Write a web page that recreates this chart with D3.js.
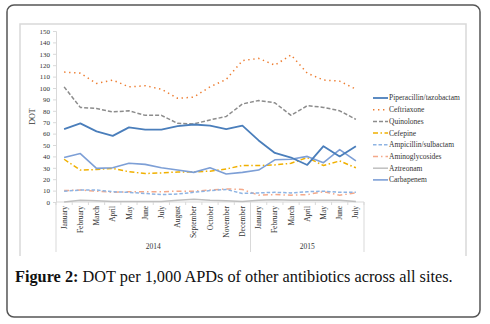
<!DOCTYPE html>
<html>
<head>
<meta charset="utf-8">
<script src="https://cdn.jsdelivr.net/npm/d3@7"></script>
<style>
  html, body { margin: 0; padding: 0; background: #fff; }
  svg { display: block; }
</style>
</head>
<body>
<svg id="chart" width="490" height="324"></svg>
<script>
const months = ["January", "February", "March", "April", "May", "June", "July", "August", "September",
  "October", "November", "December", "January", "February", "March", "April", "May", "June", "July"];
const years = [{ label: "2014", from: 0, to: 12 }, { label: "2015", from: 12, to: 19 }];
const yTicks = [0, 10, 20, 30, 40, 50, 60, 70, 80, 90, 100, 110, 120, 130, 140, 150];

const piperacillin = [64, 69, 62, 58, 65.5, 63.5, 63.5, 66.5, 68, 67, 64, 67, 54, 43, 39, 32.5, 49, 40, 49];
const ceftriaxone = [114, 113, 104, 107, 101, 102, 99, 91, 92, 101, 107.5, 124, 126, 120, 129, 113, 107, 106, 99];
const quinolones = [101, 83, 82, 79, 80, 76, 76, 69, 68.5, 72, 75, 86, 89, 87, 76, 84.5, 83, 80, 72.5];
const cefepine = [37.5, 28, 28.5, 29.5, 26.5, 25, 25.5, 26.3, 26.5, 27, 29, 32, 32, 32.5, 34, 39, 32, 36, 30];
const ampicillin = [9.5, 10.5, 10.5, 9, 8.5, 7.5, 6.5, 7, 8.5, 10, 11, 7.5, 8, 8.5, 8, 9, 9.5, 8.5, 8.5];
const aminoglycosides = [10, 10.5, 9.5, 8.5, 9, 9, 9, 9.5, 9.5, 10.5, 11.5, 11, 6, 6.5, 6, 6.5, 9, 6, 8];
const aztreonam = [0, 1.5, 1, 0.5, 0.5, 0.5, 0.5, 1.5, 2.5, 1.5, 1, 0.5, 1.5, 2, 1.5, 1.5, 1.5, 1.5, 0.5];
const carbapenem = [39, 42.5, 29.5, 30, 34, 33, 30, 28, 26, 30, 24.5, 26, 28, 37, 37.5, 40, 34.5, 46, 36];

const series = [
  { name: "Piperacillin/tazobactam", values: piperacillin, color: "#4a7ebb", width: 1.8, dash: null },
  { name: "Ceftriaxone", values: ceftriaxone, color: "#ed7d31", width: 1.5, dash: "1.4,3.6" },
  { name: "Quinolones", values: quinolones, color: "#8c8c8c", width: 1.5, dash: "4,2" },
  { name: "Cefepine", values: cefepine, color: "#f0b000", width: 1.5, dash: "5,2.5,1.5,2.5" },
  { name: "Ampicillin/sulbactam", values: ampicillin, color: "#8eb4e3", width: 1.5, dash: "3.5,2" },
  { name: "Aminoglycosides", values: aminoglycosides, color: "#f4a98a", width: 1.5, dash: "5,3,1.5,3" },
  { name: "Aztreonam", values: aztreonam, color: "#bfbfbf", width: 1.5, dash: null },
  { name: "Carbapenem", values: carbapenem, color: "#7d9fd6", width: 1.6, dash: null }
];

const svg = d3.select("#chart");
const serif = "'Liberation Serif','Times New Roman',serif";

// Outer frame
svg.append("rect")
  .attr("x", 7).attr("y", 5).attr("width", 473).attr("height", 312).attr("rx", 7)
  .attr("fill", "#fff").attr("stroke", "#555").attr("stroke-width", 1.5);

// Chart area border (top, left, right)
svg.append("path")
  .attr("d", "M20,256 V24 H466 V256")
  .attr("fill", "none").attr("stroke", "#d9d9d9").attr("stroke-width", 1.5);

const m = { left: 56, top: 31, right: 364, bottom: 202 };
const x = d3.scaleBand().domain(d3.range(months.length)).range([m.left, m.right]);
const y = d3.scaleLinear().domain([0, 150]).range([m.bottom, m.top]);
const cx = i => x(i) + x.bandwidth() / 2;

// Y axis
svg.append("g")
  .attr("transform", `translate(${m.left},0)`)
  .call(d3.axisLeft(y).tickValues(yTicks).tickSize(3).tickPadding(3))
  .call(ax => {
    ax.select(".domain").attr("stroke", "#d9d9d9");
    ax.selectAll(".tick line").attr("stroke", "#d9d9d9");
    ax.selectAll(".tick text").style("font-family", serif).style("font-size", "7px").style("fill", "#333");
  });

svg.append("text")
  .attr("transform", `translate(35,${(m.top + m.bottom) / 2}) rotate(-90)`)
  .attr("text-anchor", "middle")
  .style("font-family", serif).style("font-size", "8px").style("fill", "#333")
  .text("DOT");

// X axis line and category ticks
svg.append("line")
  .attr("x1", m.left).attr("x2", m.right).attr("y1", m.bottom).attr("y2", m.bottom)
  .attr("stroke", "#d9d9d9");
svg.append("g").selectAll("line").data(d3.range(months.length + 1)).join("line")
  .attr("x1", i => m.left + i * x.step()).attr("x2", i => m.left + i * x.step())
  .attr("y1", m.bottom).attr("y2", m.bottom + 3)
  .attr("stroke", "#d9d9d9");

// Year group separators
const edges = [0, 12, 19];
svg.append("g").selectAll("line").data(edges).join("line")
  .attr("x1", i => m.left + i * x.step()).attr("x2", i => m.left + i * x.step())
  .attr("y1", m.bottom).attr("y2", 252)
  .attr("stroke", "#d9d9d9");

// Month labels
svg.append("g").selectAll("text").data(months).join("text")
  .attr("transform", (d, i) => `translate(${cx(i) + 2.6},206) rotate(-90)`)
  .attr("text-anchor", "end")
  .style("font-family", serif).style("font-size", "7.5px").style("fill", "#333")
  .text(d => d);

// Year labels
svg.append("g").selectAll("text").data(years).join("text")
  .attr("x", d => m.left + (d.from + d.to) / 2 * x.step())
  .attr("y", 249)
  .attr("text-anchor", "middle")
  .style("font-family", serif).style("font-size", "7.5px").style("fill", "#333")
  .text(d => d.label);

// Lines
const line = d3.line().x((d, i) => cx(i)).y(d => y(d));
const drawOrder = [6, 5, 4, 3, 7, 2, 1, 0];
svg.append("g").selectAll("path").data(drawOrder.map(i => series[i])).join("path")
  .attr("d", d => line(d.values))
  .attr("fill", "none")
  .attr("stroke", d => d.color)
  .attr("stroke-width", d => d.width)
  .attr("stroke-dasharray", d => d.dash)
  .attr("stroke-linejoin", "round");

// Legend
const lg = svg.append("g").attr("transform", "translate(373,98)");
const row = lg.selectAll("g").data(series).join("g")
  .attr("transform", (d, i) => `translate(0,${i * 11.7})`);
row.append("line")
  .attr("x1", 0).attr("x2", 15).attr("y1", 0).attr("y2", 0)
  .attr("stroke", d => d.color).attr("stroke-width", d => d.width)
  .attr("stroke-dasharray", d => d.dash);
row.append("text")
  .attr("x", 16).attr("y", 0).attr("dy", "0.33em")
  .style("font-family", serif).style("font-size", "7.5px").style("fill", "#333")
  .text(d => d.name);

// Caption
const cap = svg.append("text")
  .attr("x", 15).attr("y", 282)
  .style("font-family", serif).style("font-size", "16.3px").style("fill", "#111");
cap.append("tspan").style("font-weight", "bold").text("Figure 2:");
cap.append("tspan").text(" DOT per 1,000 APDs of other antibiotics across all sites.");
</script>
</body>
</html>
